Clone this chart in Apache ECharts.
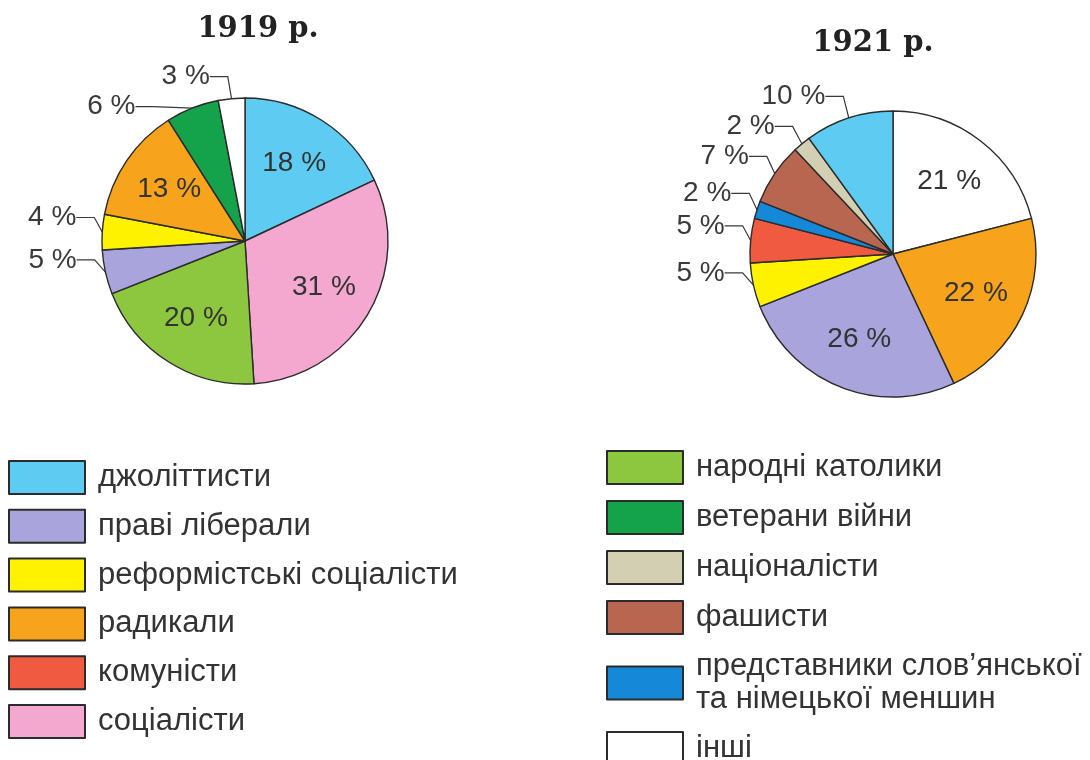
<!DOCTYPE html>
<html>
<head>
<meta charset="utf-8">
<script src="https://cdn.jsdelivr.net/npm/echarts@6/dist/echarts.min.js"></script>
<style>
html, body { margin: 0; padding: 0; background: #fff; }
#box { width: 1090px; height: 760px; }
</style>
</head>
<body>
<div id="box"></div>
<script>
// 1919 р. - по годинниковій стрілці від верху
var names1919 = ['джоліттисти', 'соціалісти', 'народні католики', 'праві ліберали',
    'реформістські соціалісти', 'радикали', 'ветерани війни', 'інші'];
var values1919 = [18, 31, 20, 5, 4, 13, 6, 3];

// 1921 р.
var names1921 = ['інші', 'радикали', 'праві ліберали', 'реформістські соціалісти', 'комуністи',
    'представники слов’янської\nта німецької меншин', 'фашисти', 'націоналісти', 'джоліттисти'];
var values1921 = [21, 22, 26, 5, 5, 2, 7, 2, 10];

var legendLeft = ['джоліттисти', 'праві ліберали', 'реформістські соціалісти', 'радикали', 'комуністи', 'соціалісти'];
var legendRight = ['народні католики', 'ветерани війни', 'націоналісти', 'фашисти',
    'представники слов’янської\nта німецької меншин', 'інші'];

var colorOf = {
    'джоліттисти': '#5ecbf2',
    'праві ліберали': '#a9a4db',
    'реформістські соціалісти': '#fff200',
    'радикали': '#f8a31c',
    'комуністи': '#f05a40',
    'соціалісти': '#f4a8cf',
    'народні католики': '#8dc63f',
    'ветерани війни': '#14a24a',
    'націоналісти': '#d2cfb2',
    'фашисти': '#b8664f',
    'представники слов’янської\nта німецької меншин': '#1588d8',
    'інші': '#ffffff'
};

var font = 'Liberation Sans, Arial, sans-serif';
var R = 143;

function sliceData(names, values) {
    var list = [];
    for (let i = 0; i < names.length; i++) {
        var small = values[i] < 12;
        list.push({
            name: names[i],
            value: values[i],
            itemStyle: { color: colorOf[names[i]] },
            label: { show: small },
            labelLine: { show: small }
        });
    }
    return list;
}

function innerData(names, values) {
    var list = [];
    for (let i = 0; i < names.length; i++) {
        list.push({
            name: names[i],
            value: values[i],
            label: { show: values[i] >= 12 }
        });
    }
    return list;
}

// зовнішні підписи трохи вище кінця лінії, як у книжці
function liftLabel(p) {
    if (!p.labelLinePoints) return;
    var r = p.labelRect;
    var x = p.align === 'right' ? r.x + r.width : (p.align === 'left' ? r.x : r.x + r.width / 2);
    return { x: x, y: r.y + r.height / 2 - 14 };
}

function pie(center, names, values) {
    return {
        type: 'pie',
        center: center,
        radius: [0, R],
        startAngle: 90,
        clockwise: true,
        avoidLabelOverlap: true,
        data: sliceData(names, values),
        itemStyle: { borderColor: '#2b2b2b', borderWidth: 1.4 },
        label: {
            position: 'outside',
            formatter: '{c} %',
            fontFamily: font,
            fontSize: 28,
            color: '#3a3a3a',
            distanceToLabelLine: 3
        },
        labelLine: {
            length: 8,
            length2: 18,
            lineStyle: { color: '#3a3a3a', width: 1.2 }
        },
        labelLayout: liftLabel,
        emphasis: { disabled: true }
    };
}

// прозорий шар лише для внутрішніх підписів
function labelPie(center, names, values) {
    return {
        type: 'pie',
        center: center,
        radius: [0, R * 1.24],
        startAngle: 90,
        clockwise: true,
        silent: true,
        data: innerData(names, values),
        itemStyle: { color: 'rgba(0,0,0,0)', borderWidth: 0 },
        label: {
            position: 'inside',
            formatter: '{c} %',
            fontFamily: font,
            fontSize: 28,
            color: '#333'
        },
        labelLine: { show: false },
        emphasis: { disabled: true }
    };
}

var legendStyle = {
    orient: 'vertical',
    icon: 'rect',
    itemWidth: 76,
    itemHeight: 33,
    padding: 0,
    height: 400,
    selectedMode: false,
    itemStyle: { borderColor: '#2b2b2b', borderWidth: 2 },
    textStyle: { fontFamily: font, fontSize: 31, color: '#333', padding: [0, 0, 0, 8], lineHeight: 33 }
};

var myChart = echarts.init(document.getElementById('box'));
var option = {
    backgroundColor: '#fff',
    animation: false,
    title: [{
        text: '1919 р.',
        left: 253,
        top: 10,
        textAlign: 'center',
        textStyle: { fontFamily: 'DejaVu Serif', fontWeight: 'bold', fontSize: 29, color: '#222' }
    }, {
        text: '1921 р.',
        left: 868,
        top: 24,
        textAlign: 'center',
        textStyle: { fontFamily: 'DejaVu Serif', fontWeight: 'bold', fontSize: 29, color: '#222' }
    }],
    legend: [
        Object.assign({ data: legendLeft, left: 8, top: 460, itemGap: 13.8 }, legendStyle),
        Object.assign({ data: legendRight, left: 606, top: 450, itemGap: 15 }, legendStyle)
    ],
    series: [
        pie([245, 241], names1919, values1919),
        pie([893, 254], names1921, values1921),
        labelPie([245, 241], names1919, values1919),
        labelPie([893, 254], names1921, values1921)
    ]
};
myChart.setOption(option);
</script>
</body>
</html>
